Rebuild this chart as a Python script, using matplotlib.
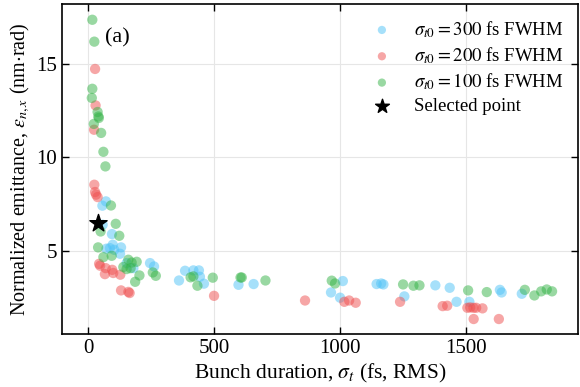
import numpy as np
import matplotlib
matplotlib.use("Agg")
from matplotlib import pyplot as plt

plt.rcParams['font.family'] = ['Liberation Serif', 'DejaVu Serif']
plt.rcParams['mathtext.fontset'] = 'stix'
plt.rcParams['font.size'] = 14

# sigma_t0 = 300 fs FWHM (blue)
x300 = [71, 57, 58, 95, 73, 87, 98, 104, 131, 127, 153, 180, 246, 262,
        385, 361, 418, 440, 444, 460, 597, 657, 1011, 964, 1000, 1145, 1163,
        1172, 1255, 1378, 1435, 1462, 1513, 1634, 1641, 1721]
y300 = [7.64, 7.41, 6.39, 5.89, 5.11, 5.14, 5.32, 5.05, 5.18, 4.84, 4.34, 4.07, 4.34, 4.16,
        3.93, 3.41, 3.95, 3.95, 3.61, 3.24, 3.18, 3.22, 3.38, 2.77, 2.49, 3.22, 3.25,
        3.20, 2.56, 3.15, 3.02, 2.27, 2.27, 2.91, 2.77, 2.70]

# sigma_t0 = 200 fs FWHM (red)
x200 = [28, 30, 24, 25, 28, 32, 38, 44, 48, 70, 67, 96, 100, 128, 131, 160, 165,
        500, 861, 1017, 1036, 1062, 1238, 1407, 1425, 1505, 1516, 1529, 1540, 1565,
        1530, 1630]
y200 = [14.72, 12.77, 11.47, 8.53, 8.14, 8.00, 7.87, 4.30, 4.20, 4.07, 3.75, 3.98, 3.81,
        3.72, 2.88, 2.80, 2.74, 2.59, 2.34, 2.27, 2.34, 2.22, 2.27, 2.04, 2.06, 1.95,
        1.97, 1.95, 1.95, 1.92, 1.35, 1.35]

# sigma_t0 = 100 fs FWHM (green)
x100 = [17, 25, 17, 15, 38, 41, 43, 23, 52, 61, 69, 91, 50, 110, 124, 40, 61, 94,
        160, 173, 193, 140, 153, 169, 257, 269, 204, 187, 407, 418, 434, 495, 605, 610,
        704, 967, 980, 1250, 1291, 1315, 1508, 1582, 1733, 1771, 1798, 1820, 1841]
y100 = [17.35, 16.18, 13.66, 13.17, 12.42, 12.18, 12.10, 11.78, 11.30, 10.29, 9.51, 7.42,
        6.03, 6.44, 5.80, 5.18, 4.66, 4.73, 4.52, 4.37, 4.41, 4.13, 4.02, 4.07, 3.84, 3.66,
        3.68, 3.34, 3.58, 3.63, 3.13, 3.56, 3.57, 3.57, 3.41, 3.40, 3.25, 3.20, 3.13, 3.15,
        2.88, 2.79, 2.91, 2.61, 2.83, 2.93, 2.83]

sel_x = [38]
sel_y = [6.48]

fig = plt.figure(figsize=(5.8, 3.87), dpi=100)
ax = fig.add_axes([0.107, 0.137, 0.89, 0.853])

ax.scatter(x300, y300, s=55, color='#4fc3f7', alpha=0.5, edgecolors='none',
           label=r'$\sigma_{t0} = 300$ fs FWHM')
ax.scatter(x200, y200, s=55, color='#ef4f4f', alpha=0.5, edgecolors='none',
           label=r'$\sigma_{t0} = 200$ fs FWHM')
ax.scatter(x100, y100, s=55, color='#34b347', alpha=0.5, edgecolors='none',
           label=r'$\sigma_{t0} = 100$ fs FWHM')
ax.scatter(sel_x, sel_y, s=170, marker='*', color='black', zorder=5,
           label='Selected point')

ax.set_xlim(-103, 1945)
ax.set_ylim(0.55, 18.2)
ax.set_xticks([0, 500, 1000, 1500])
ax.set_yticks([5, 10, 15])
ax.tick_params(direction='in', top=True, right=True, length=5, width=1, labelsize=15)
ax.grid(True, color='#e6e6e6', linewidth=0.8)
ax.set_axisbelow(True)
for sp in ax.spines.values():
    sp.set_linewidth(1.2)

ax.set_xlabel(r'Bunch duration, $\sigma_t$ (fs, RMS)', fontsize=15.5, labelpad=3)
ax.set_ylabel(r'Normalized emittance, $\varepsilon_{n,x}$ (nm$\cdot$rad)', fontsize=14.5,
              labelpad=3)
ax.text(0.083, 0.897, '(a)', transform=ax.transAxes, fontsize=16, va='center')

ax.legend(loc='upper right', frameon=False, fontsize=13.5, handletextpad=0.7,
          labelspacing=0.3, borderaxespad=0.4, markerscale=0.8)

fig.savefig('out.png', dpi=100)
